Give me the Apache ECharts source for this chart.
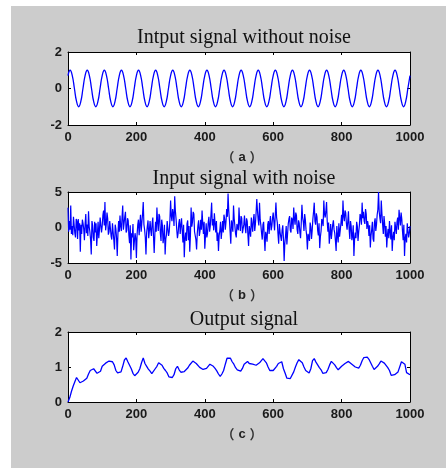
<!DOCTYPE html>
<html>
<head>
<meta charset="utf-8">
<script src="https://cdn.jsdelivr.net/npm/echarts@6/dist/echarts.min.js"></script>
<style>
  html, body { margin: 0; padding: 0; background: #ffffff; }
  #main { width: 446px; height: 468px; }
</style>
</head>
<body>
<div id="main"></div>
<script>
// panel texts
var titles = ['Intput signal without noise', 'Input signal with noise', 'Output signal'];
var captions = ['（a）', '（b）', '（c）'];

// x ticks 0..1000 step 200, y ticks per panel [min, max, interval]
var xRange = [0, 1000, 200];
var yRanges = [[-2, 2, 2], [-5, 5, 5], [0, 2, 1]];

// (a) clean sine, sampled every 6.25
var stepA = 6.25;
var cleanSignal = [
  0.71, 1, 0.71, 0, -0.71, -1, -0.71, 0,
  0.71, 1, 0.71, 0, -0.71, -1, -0.71, 0,
  0.71, 1, 0.71, 0, -0.71, -1, -0.71, 0,
  0.71, 1, 0.71, 0, -0.71, -1, -0.71, 0,
  0.71, 1, 0.71, 0, -0.71, -1, -0.71, 0,
  0.71, 1, 0.71, 0, -0.71, -1, -0.71, 0,
  0.71, 1, 0.71, 0, -0.71, -1, -0.71, 0,
  0.71, 1, 0.71, 0, -0.71, -1, -0.71, 0,
  0.71, 1, 0.71, 0, -0.71, -1, -0.71, 0,
  0.71, 1, 0.71, 0, -0.71, -1, -0.71, 0,
  0.71, 1, 0.71, 0, -0.71, -1, -0.71, 0,
  0.71, 1, 0.71, 0, -0.71, -1, -0.71, 0,
  0.71, 1, 0.71, 0, -0.71, -1, -0.71, 0,
  0.71, 1, 0.71, 0, -0.71, -1, -0.71, 0,
  0.71, 1, 0.71, 0, -0.71, -1, -0.71, 0,
  0.71, 1, 0.71, 0, -0.71, -1, -0.71, 0,
  0.71, 1, 0.71, 0, -0.71, -1, -0.71, 0,
  0.71, 1, 0.71, 0, -0.71, -1, -0.71, 0,
  0.71, 1, 0.71, 0, -0.71, -1, -0.71, 0,
  0.71, 1, 0.71, 0, -0.71, -1, -0.71, 0,
  0.71
];

// (b) noisy input, sampled every 2
var stepB = 2;
var noisySignal = [
  2.8, -0.6, 0.9, -0.3, 3.1, -0.9, 0.2, -1.1, 1.5, 1.3, -0.8, -1.4, 1.2, 0.9, -1.6, 1.2, -0.4, 0.6, -3.4, 0.4,
  -0.9, 1.1, 0.6, -0.2, -1.8, 0.5, 1.9, -0.8, 0.4, -1.2, 2.3, 0.1, -0.6, -1.7, -3.8, 0.9, 0.3, -1.4, -1.9, 0.8,
  -0.7, 0.6, -2.6, -0.9, 0.8, -1.5, -0.3, 1.4, 1.6, -0.7, 0.2, 1.7, 2.4, 0.3, 3.6, -0.4, 0.5, 2.1, 1.3, -1.0,
  -0.6, 0.9, 1.1, -1.2, -1.7, 0.6, 0.4, -1.8, -3.1, 0.4, -0.2, -1.5, -4.0, -0.9, 0.9, -0.6, 1.7, 0.2, -0.5, 1.4,
  3.1, -0.3, 0.6, 1.5, 2.2, -0.7, -0.4, 1.3, 1.0, -1.1, -2.2, 0.3, -4.5, -0.8, -1.4, 0.5, -3.2, -2.0, -0.8, -1.5,
  -4.3, -1.0, 0.4, 1.1, -1.1, 0.5, 1.8, -0.6, 0.7, 1.9, 3.6, 0.4, -0.3, -1.4, -3.8, -0.7, 0.2, 1.0, -1.5, -0.4,
  0.9, -0.4, -1.2, 0.6, 1.4, -1.3, -3.6, -0.9, 0.8, -0.6, 2.8, 0.7, -0.5, 1.9, 1.6, -0.8, -1.9, 1.1, 0.3, -2.2,
  -1.3, 0.4, -3.8, -1.6, -1.0, 0.9, 0.7, -1.2, -0.6, 1.1, 3.8, 1.6, 0.9, 2.6, 1.9, 0.2, 4.4, 2.3, 1.2, -0.3,
  -1.5, -0.8, 0.6, 1.2, -0.9, 0.3, 1.3, -0.5, -2.1, 0.4, -4.2, -1.6, -0.7, -1.9, 0.5, 1.0, -1.8, 0.2, -3.4, -1.1,
  2.8, 0.1, 0.8, 2.2, 1.9, -0.6, -0.4, -1.7, -3.1, -0.8, 0.3, 1.0, -1.2, -0.5, 1.1, -0.3, 2.4, 0.6, -0.9, 0.8,
  -3.0, -1.2, 0.6, -1.4, -0.8, 0.7, 1.5, -0.6, 0.2, 1.8, 3.5, 0.3, 1.2, -0.4, 2.0, 0.6, -0.7, 0.9, -1.9, -0.7,
  -3.3, -1.1, -0.4, 0.8, -1.6, -0.5, 0.9, -0.7, 1.8, 1.2, -0.3, 0.8, 2.6, 1.5, 4.8, 2.4, 1.1, -0.6, -2.3, 1.0,
  0.4, -0.6, 3.1, 1.2, 0.2, -0.9, -1.4, 0.5, 0.6, -0.4, 2.8, 0.7, -0.5, 1.6, 1.3, -0.8, -1.0, 0.4, 1.7, 0.1,
  -0.8, 1.3, 0.9, -1.0, -2.6, 0.2, -0.4, -1.3, 1.4, 0.4, -0.6, 1.1, 1.9, -0.5, 0.5, 2.1, 4.0, 2.4, 1.1, 0.3,
  3.5, 1.1, 0.3, -0.8, -1.7, 0.4, 0.8, -1.5, -3.3, -0.6, -1.1, -2.0, 0.4, 0.9, -0.9, 0.7, 1.6, -0.4, 0.2, 1.3,
  2.1, 0.8, -0.4, 1.7, 3.5, 1.4, 0.7, -0.9, -2.3, 0.5, -0.6, -1.3, -1.9, -0.4, 0.3, -1.6, -4.7, -2.2, -1.2, 0.2,
  -2.4, -0.9, 0.5, 1.2, 1.6, -0.4, -0.7, 1.4, 1.1, -0.2, 2.8, 1.3, 0.4, 2.1, 1.7, -0.3, -0.9, 1.0, 0.6, -0.7,
  -1.5, 0.6, 3.2, 1.4, 0.8, -0.5, 1.9, 1.1, -0.3, -1.2, -3.1, -0.9, -0.8, -1.9, 0.7, 0.1, -1.6, -0.4, 1.2, 2.2,
  3.5, 0.9, 0.4, 2.0, 1.5, -0.4, -1.1, 0.6, -2.9, -1.3, -0.5, 1.2, 0.9, 0.2, 3.8, 1.9, 1.4, 2.3, 3.6, 0.8,
  -0.6, 0.7, -2.3, -0.9, 0.5, -1.6, -1.4, 0.4, 1.0, -0.3, -0.8, -1.9, -3.3, 0.2, -1.2, -2.1, 0.6, -1.3, -0.4, 0.6,
  1.8, 0.2, 3.8, 1.6, 0.9, 2.4, 2.1, 0.6, -0.3, 0.8, 2.3, -0.2, -1.6, 0.9, 0.2, -1.8, -1.1, 0.3, -4.0, -1.6,
  -0.7, -1.5, 0.8, 0.2, -1.9, -0.6, 0.3, 1.9, 1.6, 0.4, 3.5, 1.3, 2.2, 0.9, 0.5, 2.6, 1.9, -0.2, 0.9, 0.3,
  -1.2, 0.3, -2.8, -1.1, -0.3, 0.8, -1.6, -2.0, 0.7, 1.3, -0.5, 0.4, 1.8, 2.5, 5.0, 2.2, 1.3, 0.6, 3.8, 1.9,
  0.4, -0.9, 1.6, 0.5, -1.3, 0.2, -2.8, -1.1, -0.2, -1.5, 0.9, -0.6, -1.7, 0.3, -3.3, -1.4, -0.6, -1.8, 0.8, 0.6,
  -0.9, 0.8, 1.4, -0.3, 2.5, 1.3, 0.3, 2.1, 1.2, -0.5, -1.8, 0.4, -4.0, -1.5, -0.9, -2.1, 0.6, 0.7, -1.4, -0.8,
  0.2
];

// (c) output, sampled every 5
var stepC = 5;
var outputSignal = [
  0.00, 0.12, 0.30, 0.45, 0.58, 0.70, 0.66, 0.55, 0.56, 0.60,
  0.63, 0.68, 0.80, 0.90, 0.93, 0.95, 0.97, 0.82, 0.78, 0.88,
  1.02, 1.06, 1.11, 1.14, 1.17, 1.19, 1.15, 1.06, 0.90, 0.83,
  0.82, 0.86, 1.02, 1.20, 1.26, 1.15, 1.05, 0.95, 0.82, 0.75,
  0.73, 0.85, 0.95, 1.12, 1.26, 1.10, 1.02, 0.94, 0.88, 0.81,
  0.86, 0.95, 1.02, 1.12, 1.16, 1.05, 0.96, 0.90, 0.83, 0.72,
  0.67, 0.70, 0.78, 0.95, 1.02, 0.92, 0.85, 0.83, 0.87, 0.91,
  0.97, 1.05, 1.10, 1.17, 1.16, 1.10, 1.07, 0.99, 0.95, 0.93,
  0.92, 0.96, 1.00, 1.08, 1.07, 1.02, 0.96, 0.89, 0.80, 0.73,
  0.80, 0.90, 1.08, 1.25, 1.30, 1.25, 1.15, 1.08, 0.98, 0.92,
  0.90, 0.88, 0.96, 1.08, 1.12, 1.16, 1.10, 1.05, 1.08, 1.03,
  1.05, 1.08, 1.12, 1.17, 1.24, 1.28, 1.12, 1.00, 0.90, 0.88,
  0.90, 0.93, 1.02, 1.10, 1.14, 1.15, 0.95, 0.82, 0.68, 0.64,
  0.67, 0.72, 0.86, 1.00, 1.12, 1.21, 1.18, 1.12, 1.00, 0.90,
  0.86, 0.83, 0.95, 1.18, 1.24, 1.14, 1.06, 0.98, 0.92, 0.82,
  0.78, 0.84, 0.93, 1.06, 1.16, 1.12, 1.06, 0.98, 0.92, 0.96,
  1.02, 1.05, 1.10, 1.14, 1.16, 1.12, 1.08, 1.05, 1.00, 0.98,
  0.97, 1.05, 1.18, 1.27, 1.29, 1.28, 1.22, 1.12, 1.02, 0.93,
  0.96, 1.02, 1.09, 1.17, 1.16, 1.11, 1.06, 0.98, 0.90, 0.76,
  0.72, 0.78, 0.82, 0.86, 0.90, 1.15, 1.20, 1.08, 0.84, 0.80,
  0.78
];

function toPoints(values, step) {
  return values.map(function (v, i) { return [i * step, v]; });
}

var chart = echarts.init(document.getElementById('main'), null, { renderer: 'canvas' });

var gridTops = [52, 192, 332];
var gridHeights = [73, 71, 70];
var titleCenters = [35, 176, 317];
var captionCenters = [155, 293, 432];
var lineSets = [
  { data: toPoints(cleanSignal, stepA), smooth: true, width: 1.3 },
  { data: toPoints(noisySignal, stepB), smooth: false, width: 1.2 },
  { data: toPoints(outputSignal, stepC), smooth: false, width: 1.3 }
];

var labelFont = { color: '#1a1a1a', fontSize: 13, fontWeight: 'bold', fontFamily: 'Liberation Sans, Arial, sans-serif' };
var frameLine = { show: true, onZero: false, lineStyle: { color: '#000', width: 1 } };
var innerTick = { show: true, inside: true, length: 3, lineStyle: { color: '#000', width: 1 } };

var grids = [], xAxes = [], yAxes = [], series = [], titleList = [];

for (var p = 0; p < 3; p++) {
  grids.push({
    left: 68, width: 342, top: gridTops[p], height: gridHeights[p],
    show: true, backgroundColor: '#ffffff', borderWidth: 0
  });
  // bottom x with labels, top x only ticks
  xAxes.push({
    type: 'value', gridIndex: p, position: 'bottom',
    min: xRange[0], max: xRange[1], interval: xRange[2],
    axisLine: frameLine, axisTick: innerTick, splitLine: { show: false },
    axisLabel: Object.assign({
      margin: 6, showMinLabel: true, showMaxLabel: true,
      formatter: function (v) { return String(v); }
    }, labelFont)
  });
  xAxes.push({
    type: 'value', gridIndex: p, position: 'top',
    min: xRange[0], max: xRange[1], interval: xRange[2],
    axisLine: frameLine, axisTick: innerTick, splitLine: { show: false },
    axisLabel: { show: false }
  });
  yAxes.push({
    type: 'value', gridIndex: p, position: 'left',
    min: yRanges[p][0], max: yRanges[p][1], interval: yRanges[p][2],
    axisLine: frameLine, axisTick: innerTick, splitLine: { show: false },
    axisLabel: Object.assign({ margin: 6, showMinLabel: true, showMaxLabel: true }, labelFont)
  });
  yAxes.push({
    type: 'value', gridIndex: p, position: 'right',
    min: yRanges[p][0], max: yRanges[p][1], interval: yRanges[p][2],
    axisLine: frameLine, axisTick: innerTick, splitLine: { show: false },
    axisLabel: { show: false }
  });
  series.push({
    type: 'line', xAxisIndex: p * 2, yAxisIndex: p * 2,
    data: lineSets[p].data, smooth: lineSets[p].smooth,
    showSymbol: false, clip: true,
    lineStyle: { color: '#0000ff', width: lineSets[p].width }
  });
  titleList.push({
    text: titles[p], left: 239, top: titleCenters[p] - 12, textAlign: 'center',
    textStyle: { fontFamily: 'Liberation Serif, Times New Roman, serif', fontWeight: 'normal', fontSize: 20, color: '#111' }
  });
  // caption: parentheses light, letter bold, spaced like the original
  var c = captions[p];
  titleList.push({
    text: '{p|' + c.charAt(0) + '}{l|' + c.charAt(1) + '}{p|' + c.charAt(2) + '}',
    left: 237, top: captionCenters[p] - 9, textAlign: 'center',
    textStyle: {
      rich: {
        p: { fontFamily: 'Noto Sans CJK SC', fontSize: 13, color: '#333' },
        l: { fontFamily: 'Liberation Sans, Arial, sans-serif', fontWeight: 'bold', fontSize: 13, color: '#222', padding: [0, 4] }
      }
    }
  });
}

var option = {
  animation: false,
  backgroundColor: '#ffffff',
  graphic: [{
    type: 'rect', z: -10, silent: true,
    shape: { x: 11, y: 6, width: 435, height: 462 },
    style: { fill: '#cccccc' }
  }],
  title: titleList,
  grid: grids,
  xAxis: xAxes,
  yAxis: yAxes,
  series: series
};

chart.setOption(option);
</script>
</body>
</html>
